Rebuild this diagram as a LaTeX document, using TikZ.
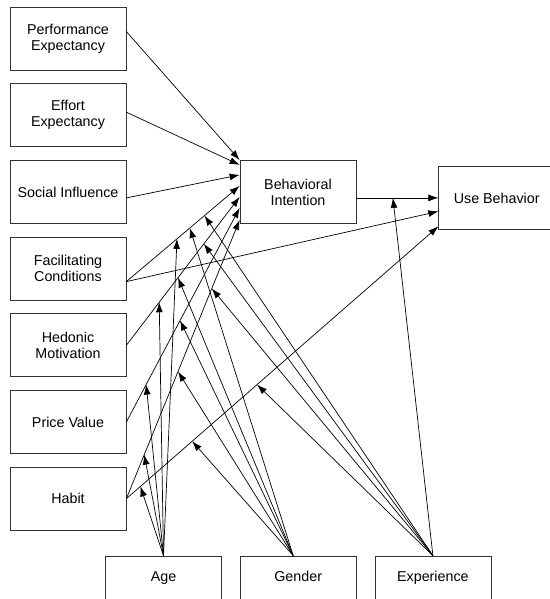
\documentclass[tikz,border=0pt]{standalone}
\usepackage{fontspec}
\setmainfont{Liberation Sans}
\usetikzlibrary{arrows.meta}

\begin{document}
\begin{tikzpicture}[node distance=76.7pt,
    >={Latex[length=10pt,width=7pt]},
    box/.style={draw=black!80, line width=0.7pt, rectangle, minimum width=116pt, minimum height=63pt, align=center, font=\fontsize{14.3}{16}\selectfont},
    modbox/.style={box, minimum height=44pt, text height=10.5pt, text depth=3pt},
    every path/.append style={line width=0.7pt}]
    \useasboundingbox (0,0) rectangle (549pt,-599pt);

    % Constructos
    \node (pe) [box] at (68pt,-38.5pt) {Performance \\ Expectancy};
    \node (ee) [box, below of=pe] {Effort \\ Expectancy};
    \node (si) [box, below of=ee] {Social Influence};
    \node (fc) [box, below of=si] {Facilitating \\ Conditions};
    \node (hm) [box, below of=fc] {Hedonic \\ Motivation};
    \node (pv) [box, below of=hm] {Price Value};
    \node (habit) [box, below of=pv] {Habit};

    \node (bi) [box, right of=si, xshift=153.3pt] {Behavioral \\ Intention};
    \node (ub) [box, right of=bi, xshift=122pt, yshift=-6pt] {Use Behavior};

    % Moderadores
    \node (age) [modbox, below of=habit, xshift=95.5pt, yshift=-2.6pt] {Age};
    \node (gender) [modbox, right of=age, xshift=58pt] {Gender};
    \node (experience) [modbox, right of=gender, xshift=58pt] {Experience};

    % Flechas de conexion
    \draw[->] ([yshift=7pt]pe.east) -- (bi.north west);
    \draw[->] ([yshift=3pt]ee.east) -- ([yshift=27pt]bi.west);
    \draw[->] ([yshift=-6pt]si.east) -- ([yshift=17pt]bi.west);
    \draw[->] ([yshift=-13pt]fc.east) -- coordinate[pos=.447] (fcA) coordinate[pos=.56] (fcG) coordinate[pos=.69] (fcE) ([yshift=6pt]bi.west);
    \draw[->] ([yshift=-13pt]fc.east) -- ([yshift=-13.5pt]ub.west);
    \draw[->] (hm.east) -- coordinate[pos=.29] (hmA) coordinate[pos=.456] (hmG) coordinate[pos=.684] (hmE) ([yshift=-5pt]bi.west);
    \draw[->] (pv.east) -- coordinate[pos=.175] (pvA) coordinate[pos=.474] (pvG) ([yshift=-16pt]bi.west);
    \draw[->] (habit.east) -- coordinate[pos=.158] (hbA) coordinate[pos=.456] (hbG) coordinate[pos=.754] (hbE) ([yshift=-28pt]bi.west);
    \draw[->] (habit.east) -- coordinate[pos=.045] (hubA) coordinate[pos=.211] (hubG) coordinate[pos=.419] (hubE) ([yshift=-28.5pt]ub.west);
    \draw[->] ([yshift=-6pt]bi.east) -- coordinate[pos=.446] (biE) (ub.west);

    % Efectos moderadores
    \draw[->] (age.north) -- (fcA);
    \draw[->] (age.north) -- (hmA);
    \draw[->] (age.north) -- (pvA);
    \draw[->] (age.north) -- (hbA);
    \draw[->] (age.north) -- (hubA);

    \draw[->] ([xshift=-5pt]gender.north) -- (fcG);
    \draw[->] ([xshift=-5pt]gender.north) -- (hmG);
    \draw[->] ([xshift=-5pt]gender.north) -- (pvG);
    \draw[->] ([xshift=-5pt]gender.north) -- (hbG);
    \draw[->] ([xshift=-5pt]gender.north) -- (hubG);

    \draw[->] (experience.north) -- (fcE);
    \draw[->] (experience.north) -- (hmE);
    \draw[->] (experience.north) -- (hbE);
    \draw[->] (experience.north) -- (hubE);
    \draw[->] (experience.north) -- (biE);
\end{tikzpicture}
\end{document}
